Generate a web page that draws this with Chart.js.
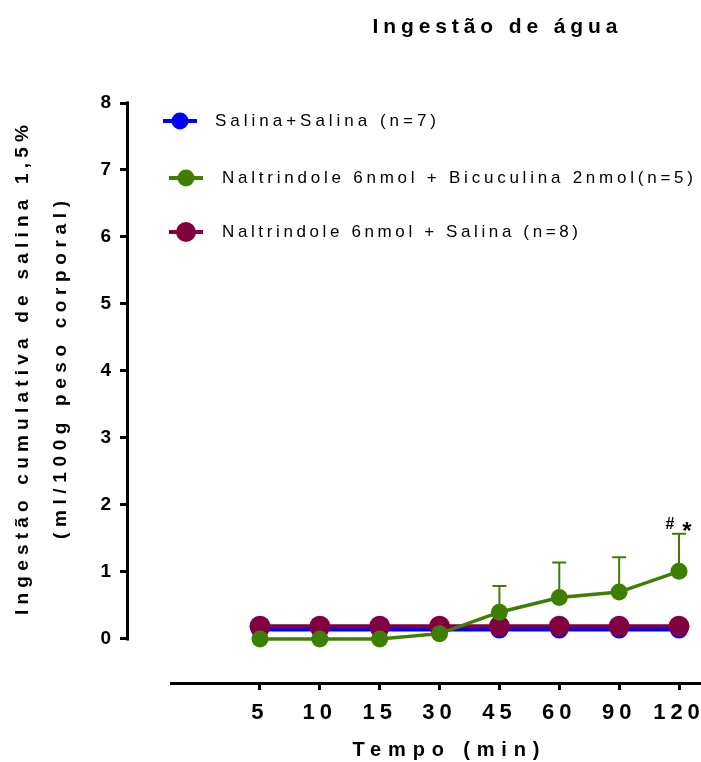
<!DOCTYPE html>
<html><head><meta charset="utf-8">
<script src="https://cdn.jsdelivr.net/npm/chart.js@4/dist/chart.umd.min.js"></script>
<style>html,body{margin:0;padding:0;background:#fff}</style>
</head><body>
<canvas id="c" width="701" height="762" style="width:701px;height:762px;display:block"></canvas>
<script>
// ---- data ----
const timeLabels = ['5', '10', '15', '30', '45', '60', '90', '120'];
const yTickValues = [0, 1, 2, 3, 4, 5, 6, 7, 8];
const seriesNames = [
  'Salina+Salina (n=7)',
  'Naltrindole 6nmol + Bicuculina 2nmol(n=5)',
  'Naltrindole 6nmol + Salina (n=8)'
];
const salinaSalina = [0.14, 0.14, 0.14, 0.14, 0.14, 0.14, 0.14, 0.14];
const naltBicu = [0.00, 0.00, 0.00, 0.08, 0.40, 0.62, 0.70, 1.01];
const naltBicuSem = [0, 0, 0, 0, 0.39, 0.52, 0.52, 0.56];
const naltSalina = [0.19, 0.19, 0.19, 0.19, 0.19, 0.19, 0.19, 0.19];
const chartTitle = 'Ingestão de água';
const yTitle = ['Ingestão cumulativa de salina 1,5%', '(ml/100g peso corporal)'];
const xTitle = 'Tempo (min)';
const sigMarks = ['#', '*'];

const FONT = "'Liberation Sans', Arial, sans-serif";
const BLUE = '#0000ff', GREEN = '#3f7f00', MAROON = '#800040';

const toPts = arr => arr.map((v, i) => ({ x: i, y: v }));

function spaced(ctx, text, x, y, width, font, align) {
  ctx.save();
  ctx.font = font;
  ctx.letterSpacing = '0px';
  const w0 = ctx.measureText(text).width;
  const n = [...text].length;
  const sp = n > 1 ? (width - w0) / (n - 1) : 0;
  ctx.letterSpacing = sp + 'px';
  ctx.textAlign = 'left';
  ctx.textBaseline = 'middle';
  ctx.fillStyle = '#000';
  ctx.fillText(text, align === 'left' ? x : x - width / 2, y);
  ctx.restore();
}

const decor = {
  id: 'decor',
  beforeDraw(chart) {
    chart.ctx.letterSpacing = '5px';
  },
  afterDatasetsDraw(chart) {
    const ctx = chart.ctx, xs = chart.scales.x, ys = chart.scales.y;
    ctx.save();
    ctx.strokeStyle = GREEN;
    ctx.lineWidth = 2;
    naltBicu.forEach((v, i) => {
      const e = naltBicuSem[i];
      if (!e) return;
      const px = xs.getPixelForValue(i);
      const y0 = ys.getPixelForValue(v) - 8;
      const y1 = ys.getPixelForValue(v + e);
      ctx.beginPath();
      ctx.moveTo(px, y0); ctx.lineTo(px, y1);
      ctx.moveTo(px - 7, y1); ctx.lineTo(px + 7, y1);
      ctx.stroke();
    });
    const li = naltBicu.length - 1;
    const px = xs.getPixelForValue(li);
    const top = ys.getPixelForValue(naltBicu[li] + naltBicuSem[li]);
    ctx.fillStyle = '#000';
    ctx.letterSpacing = '0px';
    ctx.textAlign = 'center';
    ctx.textBaseline = 'middle';
    ctx.font = 'bold 16px ' + FONT;
    ctx.fillText(sigMarks[0], px - 9, top - 9);
    ctx.font = 'bold 24px ' + FONT;
    ctx.fillText(sigMarks[1], px + 8, top - 1);
    ctx.restore();
  },
  afterDraw(chart) {
    const ctx = chart.ctx, ys = chart.scales.y, ca = chart.chartArea;
    ctx.save();
    ctx.letterSpacing = '0px';
    ctx.strokeStyle = '#000';
    ctx.lineWidth = 3;
    ctx.beginPath();
    ctx.moveTo(ca.left - 1.5, ys.getPixelForValue(8) - 1.5);
    ctx.lineTo(ca.left - 1.5, ys.getPixelForValue(0) + 1.5);
    ctx.stroke();
    ctx.beginPath();
    ctx.moveTo(170, ca.bottom + 1.5);
    ctx.lineTo(chart.width, ca.bottom + 1.5);
    ctx.stroke();
    ctx.restore();

    spaced(ctx, chartTitle, 495, 27, 245, 'bold 21px ' + FONT, 'center');
    spaced(ctx, xTitle, 446, 750, 187, 'bold 20px ' + FONT, 'center');
    ctx.save();
    ctx.translate(23, 370);
    ctx.rotate(-Math.PI / 2);
    spaced(ctx, yTitle[0], 0, 0, 490, 'bold 19px ' + FONT, 'center');
    ctx.restore();
    ctx.save();
    ctx.translate(61, 370);
    ctx.rotate(-Math.PI / 2);
    spaced(ctx, yTitle[1], 0, 0, 338, 'bold 19px ' + FONT, 'center');
    ctx.restore();

    const items = [
      { c: BLUE, r: 8.5, y: 121, l0: 163, l1: 197, cx: 180, tx: 215, w: 221 },
      { c: GREEN, r: 8.5, y: 178, l0: 169, l1: 203, cx: 186, tx: 222, w: 471 },
      { c: MAROON, r: 10, y: 232, l0: 169, l1: 203, cx: 186, tx: 222, w: 356 }
    ];
    items.forEach((it, k) => {
      ctx.save();
      ctx.strokeStyle = it.c; ctx.fillStyle = it.c; ctx.lineWidth = 4;
      ctx.beginPath(); ctx.moveTo(it.l0, it.y); ctx.lineTo(it.l1, it.y); ctx.stroke();
      ctx.beginPath(); ctx.arc(it.cx, it.y, it.r, 0, Math.PI * 2); ctx.fill();
      ctx.restore();
      spaced(ctx, seriesNames[k], it.tx, it.y, it.w, '17px ' + FONT, 'left');
    });
  }
};

new Chart(document.getElementById('c'), {
  type: 'line',
  data: {
    datasets: [
      { label: seriesNames[0], data: toPts(salinaSalina), borderColor: BLUE, backgroundColor: BLUE,
        pointBackgroundColor: BLUE, pointBorderWidth: 0, pointRadius: 9, borderWidth: 4, order: 3 },
      { label: seriesNames[2], data: toPts(naltSalina), borderColor: MAROON, backgroundColor: MAROON,
        pointBackgroundColor: MAROON, pointBorderWidth: 0, pointRadius: 10.5, borderWidth: 4, order: 2 },
      { label: seriesNames[1], data: toPts(naltBicu), borderColor: GREEN, backgroundColor: GREEN,
        pointBackgroundColor: GREEN, pointBorderWidth: 0, pointRadius: 8.5, borderWidth: 3.5, order: 1 }
    ]
  },
  options: {
    responsive: false,
    animation: false,
    devicePixelRatio: 1,
    layout: { autoPadding: false, padding: { top: 103, right: 0, left: 0, bottom: 0 } },
    plugins: { legend: { display: false }, tooltip: { enabled: false }, title: { display: false } },
    scales: {
      x: {
        type: 'linear',
        min: -2.188, max: 7.3675,
        afterBuildTicks: s => { s.ticks = timeLabels.map((t, i) => ({ value: i })); },
        afterFit: s => { s.height = 80; s.paddingLeft = 0; s.paddingRight = 0; },
        border: { display: false },
        grid: { drawOnChartArea: false, drawTicks: true, tickLength: 8, lineWidth: 3, color: '#000', tickColor: '#000' },
        ticks: {
          autoSkip: false, maxRotation: 0, padding: 10, color: '#000',
          font: { family: FONT, size: 22, weight: 'bold' },
          callback: v => timeLabels[v] ?? ''
        }
      },
      y: {
        min: -0.6418, max: 8,
        afterBuildTicks: s => { s.ticks = yTickValues.map(v => ({ value: v })); },
        afterFit: s => { s.width = 129; },
        border: { display: false },
        grid: { drawOnChartArea: false, drawTicks: true, tickLength: 9, lineWidth: 3, color: '#000', tickColor: '#000' },
        ticks: {
          padding: 4, color: '#000',
          font: { family: FONT, size: 19, weight: 'bold' },
          callback: v => String(v)
        }
      }
    }
  },
  plugins: [decor]
});
</script>
</body></html>
